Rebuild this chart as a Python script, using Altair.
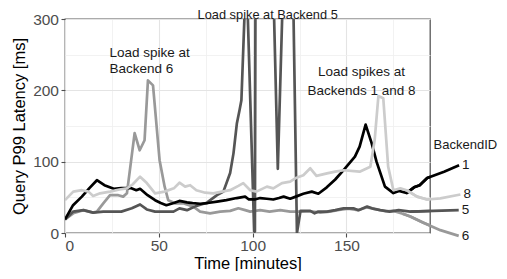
import altair as alt
import pandas as pd

# ---- data ----
s1_t = [0, 4.3, 9, 13, 17, 21, 26, 30, 35, 38, 40, 44, 48, 51, 54, 58, 61, 65, 68, 72, 76, 81, 86, 91.5, 96, 98, 101,
        104, 107.5, 111, 114, 116.5, 120, 123, 127, 131.5, 135, 139.5, 144, 149, 154.5, 157, 160.2, 163.4, 166, 170.5,
        175, 178, 182, 186, 189, 193, 202, 210]
s1_v = [19, 39, 51, 63, 74, 67, 62, 63, 63, 60, 62, 53, 46, 42, 39, 42, 45, 43, 42, 41, 42, 44, 46, 49, 51, 47, 47,
        49, 48, 47, 49, 51, 48, 51, 55, 58, 55, 64, 75, 90, 107, 121, 152, 126, 100, 65,
        56, 59, 56, 64, 67, 77, 86, 95]

s8_t = [0, 4.4, 9, 12.5, 15, 18.7, 24, 29, 33, 36, 40, 43.6, 48, 53, 58, 61, 64, 66.7, 70, 74.7, 79, 83.6, 88, 92.4,
        95, 98.7, 102, 107.6, 111, 115.6, 120, 122.7, 127, 130.7, 134, 139.6, 144, 148.4, 157, 162.7, 165, 167,
        169.6, 172.2, 175, 178.7, 182, 187.6, 193, 200, 210.7]
s8_v = [46, 58, 60, 58, 52, 55.6, 58, 61, 62.6, 68, 79, 70, 55.6, 58, 62.6, 70.5, 65, 67, 60, 56.5, 55.6, 58, 60, 66,
        70, 60, 58, 65, 62.6, 70, 72, 76.7, 81, 90.7, 80, 83.6, 86, 88, 86, 93, 130, 192,
        189, 93, 60, 62.6, 60, 51, 47, 48.6, 54]

s5_t = [0, 4.4, 9.8, 15, 20.4, 25.8, 30, 35.6, 40, 43.6, 48, 52.4, 57.8, 61, 65, 70, 75.6, 81, 84.4, 88, 89.8, 91.6,
        93, 94, 96, 97, 100.8, 101.2, 102, 105, 110.5, 113.4, 116.8, 119, 121.5, 123.6, 125.5, 130.7, 133, 135,
        139.6, 144, 148.4, 153.7, 156.4, 161, 163.6, 168, 173, 177.8, 184, 196.4, 209.8]
s5_v = [19, 30, 32, 28.5, 30, 30, 30, 34.6, 40, 33, 30, 30, 30, 34.6, 32, 38, 42.5, 53, 58, 84, 112, 154,
        172, 186, 330, 340, 2, 2, 900, 700, 400, 90, 400, 400, 350, 0, 31, 31, 27.6, 30,
        30, 32, 34.6, 34.6, 32, 37, 34.6, 32, 30, 32, 30, 31, 32]

s6_t = [0, 4.4, 9.8, 15, 17, 20.4, 24, 28.4, 31, 33, 37.1, 39.8, 42.4, 44.2, 46.9, 50.4, 53.1, 55, 58.7, 63, 68.4,
        72, 77.3, 82.7, 88, 92.4, 96, 98.7, 104, 109, 114.7, 120, 126, 131, 136, 141, 146, 151, 156, 161, 166, 171,
        175, 180, 184, 191, 200, 209.8]
s6_v = [19, 27.6, 32, 28.5, 30, 41.6, 53, 53, 51, 55.6, 140, 116, 130, 214, 207, 102, 65, 46, 41.6, 41.6, 37,
        30, 27.6, 30, 31, 34.6, 32, 30, 32, 30, 32, 30, 30, 30.5, 28.5, 30, 32.5, 34, 32, 36, 33, 30.5,
        31, 27, 23, 14.5, 4, -4]

ids = ["1", "8", "5", "6"]
colors = ["#000000", "#cccccc", "#555555", "#999999"]

ann_text = ["Load spike at\nBackend 6", "Load spike at Backend 5", "Load spikes at\nBackends 1 and 8"]
ann_t = [23.7, 108, 158]
ann_v = [247.4, 300.6, 219.8]

legend_title = "BackendID"
legend_t = 196.4
legend_v = 123.4

FONT = "Liberation Sans"
XMAX = 194.5

xscale = alt.Scale(domain=[0, XMAX], nice=False, zero=False)
yscale = alt.Scale(domain=[0, 300], nice=False)

major_x = "datum.value % 50 === 0"
major_y = "datum.value % 100 === 0"

xaxis = alt.Axis(
    values=[0, 25, 50, 75, 100, 125, 150, 175],
    labelExpr="datum.value % 50 === 0 ? datum.label : ''",
    tickOpacity={"condition": {"test": major_x, "value": 1}, "value": 0},
    gridColor={"condition": {"test": major_x, "value": "#e4e4e4"}, "value": "#efefef"},
    gridWidth={"condition": {"test": major_x, "value": 1.1}, "value": 0.8},
    labelPadding=1.5,
    titlePadding=1.5,
)
yaxis = alt.Axis(
    values=[0, 50, 100, 150, 200, 250, 300],
    labelExpr="datum.value % 100 === 0 ? datum.label : ''",
    tickOpacity={"condition": {"test": major_y, "value": 1}, "value": 0},
    gridColor={"condition": {"test": major_y, "value": "#e4e4e4"}, "value": "#efefef"},
    gridWidth={"condition": {"test": major_y, "value": 1.1}, "value": 0.8},
    labelPadding=2.5,
    titlePadding=5,
)


def X():
    return alt.X("t:Q", scale=xscale, axis=xaxis, title="Time [minutes]")


def Y():
    return alt.Y("v:Q", scale=yscale, axis=yaxis, title="Query P99 Latency [ms]")


C = alt.Color("id:N", scale=alt.Scale(domain=ids, range=colors), legend=None)

series = [("6", s6_t, s6_v), ("5", s5_t, s5_v), ("1", s1_t, s1_v), ("8", s8_t, s8_v)]

layers = []
for sid, ts, vs in series:
    df = pd.DataFrame({"t": ts, "v": vs, "id": sid})
    layers.append(
        alt.Chart(df).mark_line(strokeWidth=2.7, clip=True, strokeJoin="round").encode(x=X(), y=Y(), color=C)
    )
    ext = df[df.t >= 180]
    layers.append(
        alt.Chart(ext).mark_line(strokeWidth=2.7, clip=False, strokeJoin="round").encode(x=X(), y=Y(), color=C)
    )

lab_df = pd.DataFrame({
    "t": [s[1][-1] for s in series],
    "v": [s[2][-1] for s in series],
    "id": [s[0] for s in series],
})
layers.append(
    alt.Chart(lab_df).mark_text(align="left", baseline="middle", dx=3, fontSize=13.5, font=FONT,
                                color="#1a1a1a").encode(x=X(), y=Y(), text="id:N")
)

leg_df = pd.DataFrame({"t": [legend_t], "v": [legend_v], "txt": [legend_title]})
layers.append(
    alt.Chart(leg_df).mark_text(align="left", baseline="middle", fontSize=13, font=FONT,
                                color="#1a1a1a").encode(x=X(), y=Y(), text="txt:N")
)

ann_df = pd.DataFrame({"t": ann_t, "v": ann_v, "txt": ann_text})
aligns = ["left", "center", "center"]
heights = [16.7, 16.7, 18.3]
sizes = [13.5, 12.8, 13.5]
for i in range(len(ann_text)):
    layers.append(
        alt.Chart(ann_df.iloc[[i]]).mark_text(align=aligns[i], baseline="alphabetic", fontSize=sizes[i], font=FONT,
                                             color="#1a1a1a", lineBreak="\n", lineHeight=heights[i]).encode(
            x=X(), y=Y(), text="txt:N")
    )

chart = alt.layer(*layers).properties(
    width=365,
    height=214,
    padding={"left": 57, "top": 11, "right": 69, "bottom": 38},
    autosize=alt.AutoSizeParams(type="none"),
).configure_view(
    stroke="#595959", strokeWidth=1.3
).configure_axis(
    labelFont=FONT, labelFontSize=15.5, labelColor="#4d4d4d",
    titleFont=FONT, titleFontSize=16.5, titleColor="#000000", titleFontWeight="normal",
    tickColor="#4d4d4d", tickSize=4, tickWidth=1.1, domain=False, grid=True,
)

chart.save("out.html", embed_options={"renderer": "svg", "actions": False})
